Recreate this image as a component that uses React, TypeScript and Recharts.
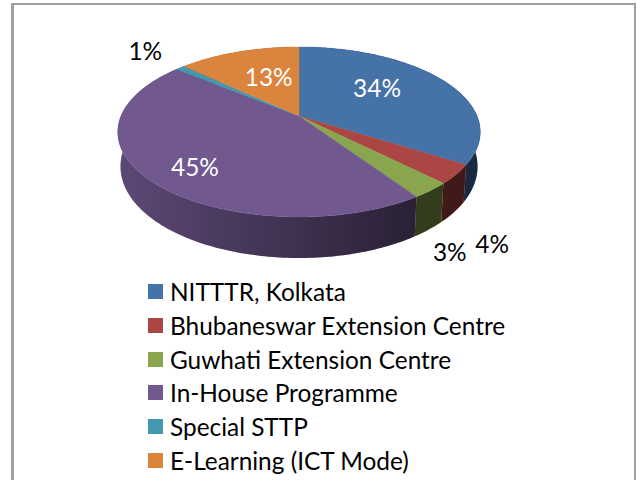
import React from 'react';
import { Legend, Pie, PieChart } from 'recharts';

const CATEGORIES = [
  'NITTTR, Kolkata',
  'Bhubaneswar Extension Centre',
  'Guwhati Extension Centre',
  'In-House Programme',
  'Special STTP',
  'E-Learning (ICT Mode)',
];
const VALUES = [34, 3.6, 3, 45.4, 1, 13];
const COLORS = ['#4572a7', '#aa4643', '#89a54e', '#71588f', '#4198af', '#db843d'];

// label placement relative to the rim point of each slice
const LABEL_NUDGE = [
  [-65, 7.5],
  [36, 69],
  [19, 61],
  [47, -12],
  [-35, -17],
  [30, 25],
];
const LABEL_COLORS = ['#fff', '#000', '#000', '#fff', '#000', '#fff'];

const FONT = 'Lato, sans-serif';
const TILT = 0.188; // perspective of the disc
const SQUASH = 82 / 178;

const rows = CATEGORIES.map((name, i) => ({ name, value: VALUES[i], fill: COLORS[i] }));

// recharts angle -> point on the tilted disc rim
const rim = (cx: number, cy: number, r: number, angle: number) => {
  const t = ((90 - angle) * Math.PI) / 180;
  const X = Math.sin(t);
  const Y = Math.cos(t);
  const den = 1 + TILT * Y;
  return { x: cx + (r * X) / den, y: cy - (r * SQUASH * Y) / den, Y };
};

const arcPoints = (cx: number, cy: number, r: number, from: number, to: number) => {
  const steps = Math.max(2, Math.ceil(Math.abs(to - from)));
  return Array.from({ length: steps + 1 }, (_, i) => rim(cx, cy, r, from + ((to - from) * i) / steps));
};

const TopFace = (props: any) => {
  const { cx, cy, outerRadius, startAngle, endAngle, fill } = props;
  const pts = arcPoints(cx, cy, outerRadius, startAngle, endAngle);
  const d = `M${cx},${cy} ` + pts.map((p) => `L${p.x},${p.y}`).join(' ') + ' Z';
  return <path d={d} fill={fill} stroke={fill} strokeWidth={0.4} />;
};

const Wall = (props: any) => {
  const { cx, cy, outerRadius, startAngle, endAngle, fill } = props;
  const pts = arcPoints(cx, cy, outerRadius, startAngle, endAngle);
  const lower = pts
    .map((p) => ({ x: cx + (p.x - cx) * 0.985, y: p.y + 33 - 8 * p.Y }))
    .reverse();
  const d = [...pts, ...lower].map((p, i) => `${i ? 'L' : 'M'}${p.x},${p.y}`).join(' ') + ' Z';
  return (
    <g>
      <path d={d} fill={fill} />
      <path d={d} fill="url(#wallShade)" />
    </g>
  );
};

const renderLabel = (props: any) => {
  const { cx, cy, outerRadius, midAngle, percent, index } = props;
  const p = rim(cx, cy, outerRadius, midAngle);
  return (
    <text
      x={p.x + LABEL_NUDGE[index][0]}
      y={p.y + LABEL_NUDGE[index][1]}
      fill={LABEL_COLORS[index]}
      fontFamily={FONT}
      fontSize={24.4}
      textAnchor="middle"
      dominantBaseline="central"
    >
      {`${Math.round(percent * 100)}%`}
    </text>
  );
};

const LegendList = () => (
  <div style={{ fontFamily: FONT, fontSize: 24.4, color: '#000' }}>
    {rows.map((row) => (
      <div key={row.name} style={{ display: 'flex', alignItems: 'center', height: 33.7, whiteSpace: 'nowrap' }}>
        <span style={{ width: 15, height: 15, background: row.fill, marginRight: 7 }} />
        <span>{row.name}</span>
      </div>
    ))}
  </div>
);

export default function App() {
  return (
    <div style={{ position: 'absolute', left: 0, top: 0, width: 636, height: 480, background: '#fff', overflow: 'hidden' }}>
      <div
        style={{
          position: 'absolute',
          left: 11,
          top: 3,
          width: 625,
          height: 477,
          boxSizing: 'border-box',
          borderLeft: '3px solid #a0a0a0',
          borderTop: '2px solid #a0a0a0',
          borderRight: '2px solid #a0a0a0',
        }}
      />
      <PieChart width={636} height={480} margin={{ top: 0, right: 0, bottom: 0, left: 0 }} style={{ position: 'absolute', left: 0, top: 0 }}>
        <defs>
          <linearGradient id="wallShade" gradientUnits="userSpaceOnUse" x1={119} y1={0} x2={415} y2={0}>
            <stop offset="0" stopColor="#000" stopOpacity={0.18} />
            <stop offset="1" stopColor="#000" stopOpacity={0.63} />
          </linearGradient>
        </defs>
        <Pie
          data={rows}
          dataKey="value"
          nameKey="name"
          cx={299}
          cy={116}
          outerRadius={178}
          startAngle={90}
          endAngle={-270}
          legendType="none"
          shape={Wall}
          isAnimationActive={false}
        />
        <Pie
          data={rows}
          dataKey="value"
          nameKey="name"
          cx={299}
          cy={116}
          outerRadius={178}
          startAngle={90}
          endAngle={-270}
          shape={TopFace}
          label={renderLabel}
          labelLine={false}
          isAnimationActive={false}
        />
        <Legend content={LegendList} wrapperStyle={{ left: 148, top: 275, width: 400 }} />
      </PieChart>
    </div>
  );
}
